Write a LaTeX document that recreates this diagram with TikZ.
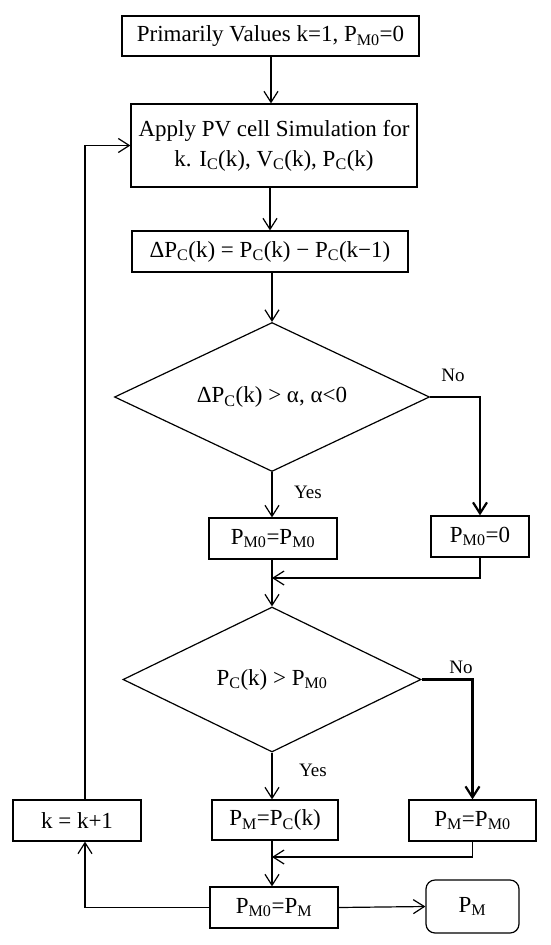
\documentclass[tikz,border=0pt]{standalone}
\usepackage{fontspec}
\setmainfont{Liberation Serif}
\usetikzlibrary{shapes.geometric,arrows.meta}
\newcommand{\sbx}[1]{\textsubscript{#1}}
\begin{document}
\begin{tikzpicture}[x=1pt,y=-1pt,
  font=\fontsize{23}{30}\selectfont, line width=1.2pt,
  box/.style={draw, rectangle, inner sep=0pt, align=center},
  dia/.style={draw, diamond, inner sep=0pt},
  arr/.style={-{Straight Barb[length=11pt,width=14pt]}},
  thk/.style={line width=2.2pt},
  lbl/.style={font=\fontsize{19}{22}\selectfont}]
\useasboundingbox (0,0) rectangle (550,945);
\fill[white] (0,0) rectangle (550,945);

\node[box, minimum width=297pt, minimum height=40pt] (b1) at (270.5,36) {Primarily Values k=1, P\sbx{M0}=0};
\node[box, minimum width=286pt, minimum height=83pt] (b2) at (274,145.5) {Apply PV cell Simulation for\\k. I\sbx{C}(k), V\sbx{C}(k), P\sbx{C}(k)};
\node[box, minimum width=276pt, minimum height=41pt] (b3) at (270,251.5) {ΔP\sbx{C}(k) = P\sbx{C}(k) − P\sbx{C}(k−1)};
\node[dia, aspect=2.11, minimum width=315pt, minimum height=149pt] (d1) at (272,397) {ΔP\sbx{C}(k) > α, α<0};
\node[box, minimum width=128pt, minimum height=41pt] (r1) at (273,538.5) {P\sbx{M0}=P\sbx{M0}};
\node[box, minimum width=98pt, minimum height=41pt] (r2) at (480,536.5) {P\sbx{M0}=0};
\coordinate (m1) at (272,578);
\node[dia, aspect=2.06, minimum width=298pt, minimum height=145pt] (d2) at (272,679.5) {P\sbx{C}(k) > P\sbx{M0}};
\node[box, minimum width=126pt, minimum height=40pt] (r3) at (275,820) {P\sbx{M}=P\sbx{C}(k)};
\node[box, minimum width=127pt, minimum height=41pt] (r4) at (472.5,820.5) {P\sbx{M}=P\sbx{M0}};
\node[box, minimum width=128pt, minimum height=41pt] (kb) at (77,820.5) {k = k+1};
\coordinate (m2) at (272,857);
\node[box, minimum width=128pt, minimum height=41pt] (r5) at (274,907.5) {P\sbx{M0}=P\sbx{M}};
\node[box, rounded corners=9pt, minimum width=93pt, minimum height=53pt] (out) at (472.5,906.5) {P\sbx{M}};

\node[lbl] (no1) at (453,375) {No};
\node[lbl] (yes1) at (308,492) {Yes};
\node[lbl] (no2) at (461,667) {No};
\node[lbl] (yes2) at (313,770) {Yes};

\draw[arr] (b1.south -| 271,0) -- (b2.north -| 271,0);
\draw[arr] (b2.south -| 270,0) -- (b3.north -| 270,0);
\draw[arr] (d1.north |- b3.south) -- (d1.north);
\draw[arr, thk] (d1.east) -| (r2.north);
\draw[arr] (d1.south) -- (d1.south |- r1.north);
\draw[arr] (d1.south |- r1.south) -- (d2.north);
\draw[arr] (r2.south) |- (m1);
\draw[arr, thk] (d2.east) -| (r4.north);
\draw[arr] (d2.south) -- (d2.south |- r3.north);
\draw[arr] (d2.south |- r3.south) -- (d2.south |- r5.north);
\draw[arr] (r4.south) |- (m2);
\draw[arr] (r5.east) -- (out.west);
\draw[arr] (r5.west) -| ([xshift=8pt]kb.south);
\draw[arr] ([xshift=8pt]kb.north) |- (b2.west);
\end{tikzpicture}
\end{document}
